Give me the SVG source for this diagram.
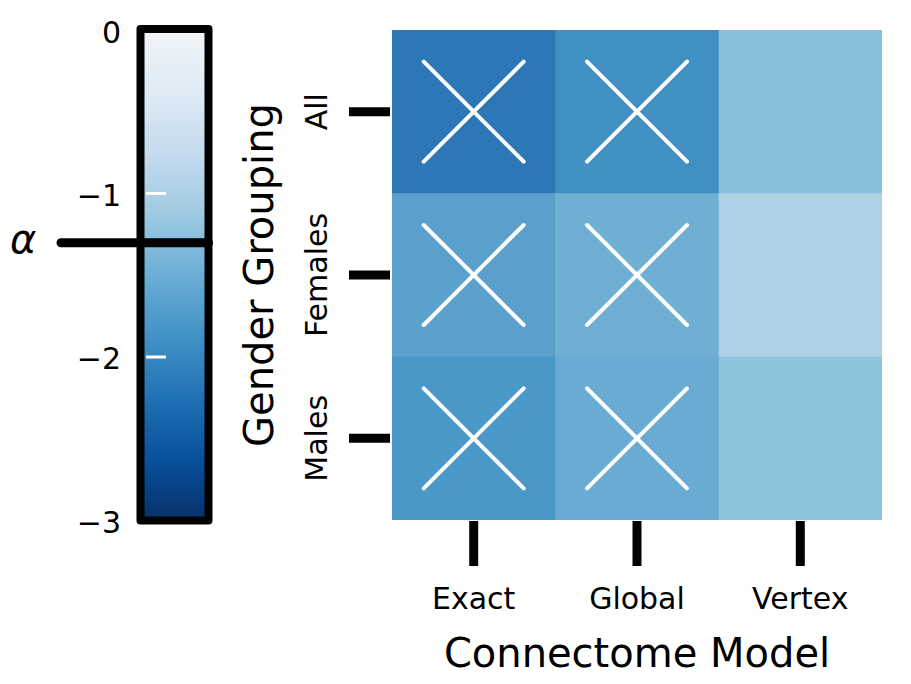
<svg xmlns="http://www.w3.org/2000/svg" width="911" height="684" viewBox="0 0 911 684">
  <style>
    text { font-family: "DejaVu Sans", "Liberation Sans", sans-serif; fill: #000; }
    .tick { font-size: 30px; }
    .axis { font-size: 40px; }
    .tk { stroke: #000; stroke-width: 9; fill: none; }
    .x { stroke: #fff; stroke-width: 4; stroke-linecap: round; fill: none; }
    .cbt { stroke: #fff; stroke-width: 3; }
  </style>
  <defs>
    <linearGradient id="blues" x1="0" y1="0" x2="0" y2="1">
      <stop offset="0" stop-color="#f2f6f9"/>
      <stop offset="0.125" stop-color="#deebf5"/>
      <stop offset="0.25" stop-color="#c6dbef"/>
      <stop offset="0.375" stop-color="#9ecae1"/>
      <stop offset="0.5" stop-color="#6baed6"/>
      <stop offset="0.625" stop-color="#4292c6"/>
      <stop offset="0.75" stop-color="#2171b5"/>
      <stop offset="0.875" stop-color="#08519c"/>
      <stop offset="1" stop-color="#08306b"/>
    </linearGradient>
    <g id="cross">
      <line class="x" x1="-50" y1="-50" x2="50" y2="50"/>
      <line class="x" x1="-50" y1="50" x2="50" y2="-50"/>
    </g>
  </defs>
  <rect width="911" height="684" fill="#fff"/>

  <g id="colorbar">
    <rect x="140.5" y="29" width="68" height="491.5" fill="url(#blues)" stroke="#000" stroke-width="8" stroke-linejoin="round"/>
    <line class="cbt" x1="146" y1="193.5" x2="166" y2="193.5"/>
    <line class="cbt" x1="146" y1="357" x2="166" y2="357"/>
    <text class="tick" x="121" y="43" text-anchor="end">0</text>
    <text class="tick" x="121" y="206" text-anchor="end">−1</text>
    <text class="tick" x="121" y="369" text-anchor="end">−2</text>
    <text class="tick" x="121" y="533" text-anchor="end">−3</text>
  </g>

  <g id="alpha">
    <line x1="61" y1="242.7" x2="208.5" y2="242.7" stroke="#000" stroke-width="9" stroke-linecap="round"/>
    <text x="10" y="253" font-size="40" font-style="italic">α</text>
  </g>

  <g id="heatmap">
    <rect x="392" y="30" width="164" height="164" fill="#2e77b7"/>
    <rect x="555.3" y="30" width="164" height="164" fill="#4090c4"/>
    <rect x="718.7" y="30" width="163.3" height="164" fill="#89bedc"/>
    <rect x="392" y="193.3" width="164" height="164" fill="#5ba0cc"/>
    <rect x="555.3" y="193.3" width="164" height="164" fill="#6fafd4"/>
    <rect x="718.7" y="193.3" width="163.3" height="164" fill="#aed1e5"/>
    <rect x="392" y="356.7" width="164" height="163.3" fill="#4a98c8"/>
    <rect x="555.3" y="356.7" width="164" height="163.3" fill="#6aabd3"/>
    <rect x="718.7" y="356.7" width="163.3" height="163.3" fill="#8ec3de"/>
  </g>

  <g id="crosses">
    <use href="#cross" x="473.7" y="111.7"/>
    <use href="#cross" x="637" y="111.7"/>
    <use href="#cross" x="473.7" y="275"/>
    <use href="#cross" x="637" y="275"/>
    <use href="#cross" x="473.7" y="438.3"/>
    <use href="#cross" x="637" y="438.3"/>
  </g>

  <g id="y-axis">
    <line class="tk" x1="349" y1="111.7" x2="390" y2="111.7"/>
    <line class="tk" x1="349" y1="275" x2="390" y2="275"/>
    <line class="tk" x1="349" y1="438.3" x2="390" y2="438.3"/>
    <text class="tick" transform="translate(327,111.7) rotate(-90)" text-anchor="middle">All</text>
    <text class="tick" transform="translate(327,275) rotate(-90)" text-anchor="middle">Females</text>
    <text class="tick" transform="translate(327,438.3) rotate(-90)" text-anchor="middle">Males</text>
    <text class="axis" transform="translate(273,275) rotate(-90)" text-anchor="middle">Gender Grouping</text>
  </g>

  <g id="x-axis">
    <line class="tk" x1="473.7" y1="521" x2="473.7" y2="566"/>
    <line class="tk" x1="637" y1="521" x2="637" y2="566"/>
    <line class="tk" x1="800.3" y1="521" x2="800.3" y2="566"/>
    <text class="tick" x="473.7" y="609" text-anchor="middle">Exact</text>
    <text class="tick" x="637" y="609" text-anchor="middle">Global</text>
    <text class="tick" x="800.3" y="609" text-anchor="middle">Vertex</text>
    <text class="axis" x="637" y="667" text-anchor="middle">Connectome Model</text>
  </g>
</svg>
